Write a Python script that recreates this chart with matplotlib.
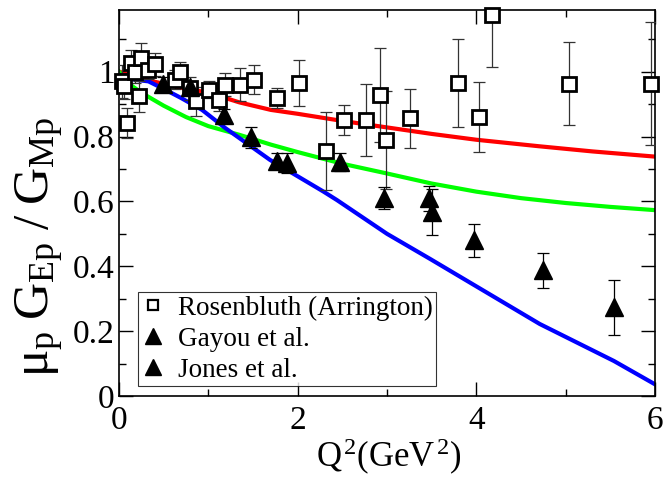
import matplotlib
matplotlib.use('Agg')
import matplotlib.pyplot as plt
from matplotlib.lines import Line2D
from matplotlib.ticker import MultipleLocator, FormatStrFormatter

plt.rcParams['font.family'] = 'Liberation Serif'
plt.rcParams['mathtext.fontset'] = 'custom'
plt.rcParams['mathtext.rm'] = 'Liberation Serif'
plt.rcParams['mathtext.it'] = 'Liberation Serif'
plt.rcParams['mathtext.bf'] = 'Liberation Serif:bold'

# courbes theoriques
q2_red = [0.0, 0.3, 0.7, 1.0, 1.35, 1.7, 2.0, 2.5, 3.0, 3.5, 4.0, 4.7, 5.3, 6.0]
ratio_red = [1.0, 0.975, 0.95, 0.935, 0.905, 0.882, 0.87, 0.848, 0.828, 0.808, 0.79, 0.77, 0.754, 0.738]

q2_green = [0.0, 0.1, 0.25, 0.5, 0.75, 1.0, 1.35, 1.7, 2.0, 2.5, 3.0, 3.5, 4.0, 4.5, 5.0, 5.5, 6.0]
ratio_green = [1.0, 0.965, 0.935, 0.895, 0.86, 0.832, 0.805, 0.775, 0.752, 0.716, 0.686, 0.655, 0.63, 0.61, 0.595, 0.583, 0.573]

q2_blue = [0.0, 0.18, 0.33, 0.52, 0.7, 0.93, 1.19, 1.69, 2.29, 2.44, 3.0, 3.48, 4.71, 5.54, 6.0]
ratio_blue = [0.985, 0.975, 0.97, 0.944, 0.918, 0.882, 0.826, 0.728, 0.63, 0.604, 0.5, 0.423, 0.222, 0.108, 0.036]

# Rosenbluth (Arrington)
q2_ros = [0.03, 0.06, 0.086, 0.13, 0.18, 0.22, 0.25, 0.32, 0.40, 0.63, 0.68, 0.80, 0.86,
          1.01, 1.12, 1.19, 1.36, 1.51, 1.77, 2.02, 2.32, 2.52, 2.76, 2.92, 2.99, 3.26,
          3.80, 4.03, 4.18, 5.04, 5.96]
ratio_ros = [0.97, 0.955, 0.841, 1.027, 1.0, 0.924, 1.042, 1.006, 1.022, 0.975, 1.0, 0.949, 0.908,
             0.944, 0.914, 0.96, 0.96, 0.975, 0.918, 0.965, 0.755, 0.851, 0.851, 0.929, 0.789, 0.856,
             0.965, 0.859, 1.176, 0.962, 0.963]
err_ros = [0.05, 0.04, 0.046, 0.04, 0.035, 0.047, 0.046, 0.03, 0.035, 0.03, 0.03, 0.035, 0.046,
           0.026, 0.036, 0.035, 0.05, 0.045, 0.03, 0.07, 0.12, 0.045, 0.11, 0.145, 0.15, 0.09,
           0.135, 0.108, 0.163, 0.128, 0.19]

# polarisation : Jones et al. et Gayou et al.
q2_jones = [0.49, 0.79, 1.18, 1.48, 1.77, 1.88, 2.47, 2.97, 3.47]
ratio_jones = [0.962, 0.952, 0.865, 0.798, 0.724, 0.719, 0.722, 0.611, 0.609]
err_jones = [0.02, 0.02, 0.02, 0.032, 0.025, 0.03, 0.027, 0.033, 0.038]

q2_gayou = [3.5, 3.97, 4.75, 5.54]
ratio_gayou = [0.567, 0.480, 0.387, 0.273]
err_gayou = [0.072, 0.05, 0.053, 0.086]

fig = plt.figure(figsize=(6.68, 4.8), dpi=100)
ax = fig.add_axes([119/668, 84/480, 536/668, 386/480])

ax.plot(q2_red, ratio_red, color='red', lw=3, zorder=2)
ax.plot(q2_green, ratio_green, color='#00ff00', lw=3, zorder=2)
ax.plot(q2_blue, ratio_blue, color='blue', lw=3, zorder=2)

ax.errorbar(q2_ros, ratio_ros, yerr=err_ros, fmt='none', ecolor='#333333',
            elinewidth=0.9, capsize=4, capthick=0.9, zorder=3)
ax.plot(q2_ros, ratio_ros, 's', ms=9.5, mfc='white', mec='black', mew=2,
        zorder=4, clip_on=False)

for q, r, e in [(q2_jones, ratio_jones, err_jones), (q2_gayou, ratio_gayou, err_gayou)]:
    ax.errorbar(q, r, yerr=e, fmt='none', ecolor='black',
                elinewidth=0.9, capsize=4, capthick=0.9, zorder=5)
    ax.plot(q, r, '^', ms=13, color='black', zorder=6)

ax.set_xlim(0, 6)
ax.set_ylim(0, 1.19)
ax.xaxis.set_major_locator(MultipleLocator(2))
ax.xaxis.set_minor_locator(MultipleLocator(1))
ax.yaxis.set_major_locator(MultipleLocator(0.2))
ax.yaxis.set_minor_locator(MultipleLocator(0.1))
ax.yaxis.set_major_formatter(FormatStrFormatter('%g'))
ax.tick_params(which='both', direction='in', top=True, right=True, width=1)
ax.tick_params(which='major', length=10, labelsize=24)
ax.tick_params(which='minor', length=5)
ax.tick_params(axis='x', pad=7)
ax.tick_params(axis='y', pad=3)
for s in ax.spines.values():
    s.set_linewidth(1.2)

fig.text(389/668, 1 - 457/480, r'$Q^2(GeV^2)$', fontsize=25, ha='center', va='center')
fig.text(40/668, 1 - 247/480, r'$\mu_p\;G_{Ep}\;/\;G_{Mp}$', fontsize=37,
         rotation=90, ha='center', va='center')

handles = [
    Line2D([], [], ls='none', marker='s', ms=7.5, mfc='white', mec='black', mew=1.6),
    Line2D([], [], ls='none', marker='^', ms=12, color='black'),
    Line2D([], [], ls='none', marker='^', ms=12, color='black'),
]
labels = ['Rosenbluth (Arrington)', 'Gayou et al.', 'Jones et al.']
leg = ax.legend(handles, labels, loc='lower left', bbox_to_anchor=(0.035, 0.026),
                borderaxespad=0, fontsize=19.5, frameon=True, fancybox=False,
                handlelength=0.9, handletextpad=0.45, labelspacing=0.22, borderpad=0.12)
leg.get_frame().set_edgecolor('black')
leg.get_frame().set_linewidth(0.8)

fig.savefig('out.png', dpi=100)
